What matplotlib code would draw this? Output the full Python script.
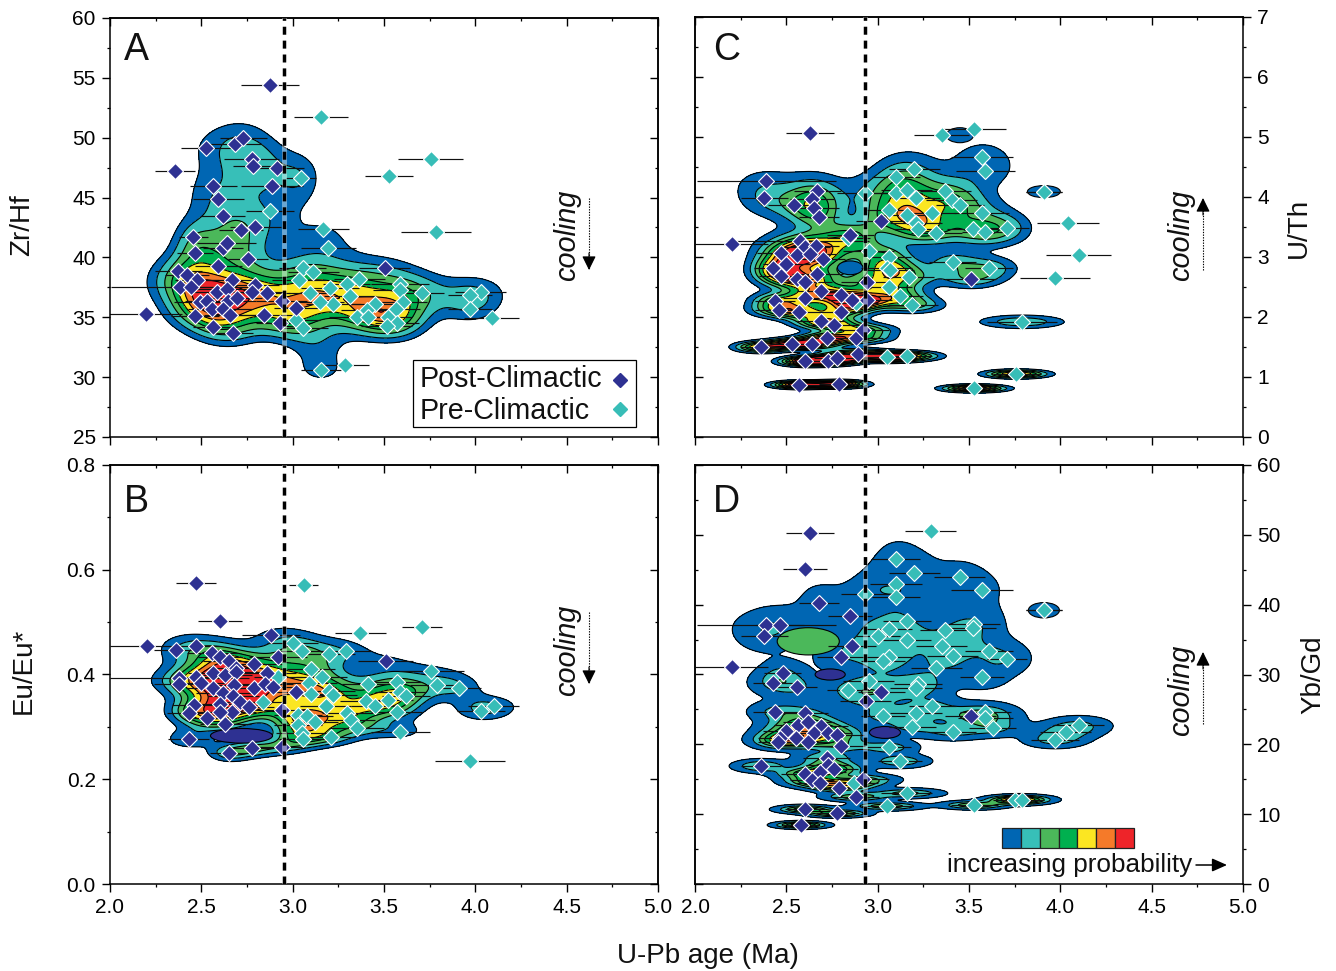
import numpy as np
import matplotlib
matplotlib.use("Agg")
import matplotlib.pyplot as plt
from matplotlib.patches import Ellipse, Rectangle
from matplotlib.lines import Line2D
from matplotlib.ticker import MultipleLocator, NullFormatter

plt.rcParams['font.family'] = ['Liberation Sans', 'DejaVu Sans']

# ---------- Panel A : Zr/Hf ----------
a_post_age = [2.526,2.684,2.73,2.776,2.785,2.912,2.566,2.885,2.593,2.617,2.715,2.796,2.456,2.617,2.639,2.465,2.757,2.593,3.505,2.374,
              2.423,2.474,2.666,2.383,2.442,2.584,2.639,2.794,2.776,2.858,2.94,2.493,2.53,2.648,2.693,2.557,2.62,3.018,2.465,2.657,
              2.845,2.93,2.566,2.675]
a_post_val = [49.1,49.5,50.0,48.2,47.6,47.5,46.0,46.0,44.85,43.5,42.3,42.5,41.7,40.75,41.2,40.4,39.9,39.3,39.1,38.9,
              38.5,38.1,38.1,37.5,37.55,37.1,37.4,37.7,37.1,37.0,36.4,36.3,36.4,36.4,36.6,35.7,35.7,35.8,35.1,35.2,
              35.2,34.5,34.2,33.7]
a_post_err = [.14,.14,.13,.15,.11,.15,.13,.17,.14,.12,.12,.14,.08,.11,.16,.10,.11,.13,.14,.13,
              .12,.12,.14,.38,.12,.15,.17,.13,.18,.13,.14,.14,.12,.15,.14,.13,.16,.12,.13,.14,
              .15,.13,.11,.11]
a_post_out_age = [2.876,2.356,2.195]
a_post_out_val = [54.4,47.2,35.3]
a_post_out_err = [.16,.11,.20]
a_pre_age = [3.046,2.876,3.168,3.195,3.055,3.113,3.035,3.296,3.365,3.204,3.095,3.314,3.588,3.588,3.706,3.606,3.45,3.223,3.15,3.405,
             3.566,3.35,3.414,3.524,3.57,3.515,3.02,3.055,3.155,4.03,3.97,3.97]
a_pre_val = [46.6,43.9,42.4,40.8,39.1,38.75,38.1,37.8,38.2,37.45,37.0,36.8,37.8,37.3,37.05,36.3,36.15,36.15,36.3,35.6,
             35.7,35.05,35.0,35.05,34.5,34.3,34.8,34.1,30.6,37.1,36.9,35.7]
a_pre_err = [.08,.13,.14,.15,.13,.14,.15,.13,.14,.16,.12,.14,.16,.15,.12,.13,.14,.15,.13,.14,
             .13,.15,.14,.13,.12,.14,.13,.14,.11,.14,.12,.12]
a_pre_out_age = [3.155,3.755,3.527,3.785,3.286,4.09]
a_pre_out_val = [51.7,48.2,46.8,42.1,31.0,34.9]
a_pre_out_err = [.15,.18,.13,.19,.13,.15]
a_extra_age = [3.14]
a_extra_val = [32.6]
a_extra_err = [.12]

# ---------- Panel B : Eu/Eu* ----------
b_post_age = [2.88,2.36,2.47,2.56,2.60,2.65,2.79,2.92,2.69,3.51,2.86,2.38,2.38,2.47,2.565,2.63,2.69,2.50,2.565,2.68,
              2.79,2.85,2.89,3.02,2.62,2.675,2.71,2.60,2.46,2.43,2.76,2.67,2.60,2.94,2.53,2.63,2.43,2.78,2.65,2.94]
b_post_val = [.475,.447,.454,.442,.433,.426,.421,.433,.412,.425,.403,.394,.382,.396,.402,.399,.405,.383,.374,.38,
              .374,.382,.377,.366,.364,.358,.348,.344,.342,.326,.337,.328,.329,.333,.316,.305,.277,.259,.25,.262]
b_post_err = [.16,.12,.13,.14,.12,.14,.15,.16,.14,.15,.16,.38,.14,.13,.14,.15,.14,.13,.15,.14,
              .13,.15,.14,.12,.15,.14,.13,.12,.12,.12,.14,.13,.15,.14,.12,.14,.11,.11,.10,.13]
b_post_out_age = [2.47,2.60,2.20]
b_post_out_val = [.575,.503,.455]
b_post_out_err = [.11,.12,.20]
b_pre_age = [3.00,3.05,3.20,3.29,3.10,3.76,3.16,2.92,3.09,3.57,3.41,3.79,3.91,3.10,3.20,3.22,3.59,3.62,2.84,3.40,
             3.52,3.18,3.45,3.57,4.03,4.10,3.03,3.08,3.12,3.30,3.32,3.35,3.03,3.05,3.055,3.21,3.59]
b_pre_val = [.461,.445,.44,.445,.41,.407,.396,.396,.383,.386,.382,.38,.374,.363,.369,.361,.367,.359,.348,.35,
             .352,.34,.339,.329,.331,.34,.323,.32,.31,.326,.313,.298,.303,.288,.277,.28,.291]
b_pre_err = [.14,.13,.14,.14,.13,.18,.14,.13,.15,.14,.14,.15,.12,.14,.14,.13,.14,.13,.12,.14,
             .14,.14,.13,.14,.13,.14,.13,.14,.13,.14,.13,.15,.13,.14,.13,.13,.16]
b_pre_out_age = [3.06,3.37,3.71,3.97]
b_pre_out_val = [.57,.48,.491,.234]
b_pre_out_err = [.08,.14,.11,.19]

# ---------- Panel C : U/Th ----------
c_post_age = [2.39,2.38,2.54,2.67,2.64,2.65,2.68,3.02,2.85,2.575,2.60,2.66,2.47,2.56,2.63,2.70,2.425,2.50,2.47,2.67,
              2.56,2.60,2.94,3.51,2.69,2.80,2.86,2.94,2.60,2.44,2.46,2.57,2.80,2.69,2.76,2.72,2.88,2.92,2.36,2.53,
              2.64,2.89,2.60,2.73,2.78,2.57,2.79]
c_post_val = [4.26,3.99,3.87,4.10,3.96,3.81,3.67,3.60,3.36,3.27,3.16,3.18,3.06,3.03,3.05,2.97,2.81,2.88,2.69,2.72,
              2.63,2.58,2.59,2.64,2.43,2.37,2.28,2.28,2.31,2.27,2.12,2.09,2.09,1.94,1.87,1.65,1.65,1.78,1.50,1.55,
              1.55,1.39,1.26,1.27,1.31,.87,.88]
c_post_err = [.38,.13,.14,.13,.12,.14,.11,.14,.13,.38,.14,.13,.13,.12,.14,.12,.10,.13,.12,.14,
              .13,.15,.14,.14,.13,.14,.13,.14,.12,.11,.13,.12,.12,.13,.14,.12,.15,.14,.11,.12,
              .13,.14,.11,.12,.13,.11,.11]
c_post_out_age = [2.63,2.20]
c_post_out_val = [5.06,3.21]
c_post_out_err = [.13,.20]
c_pre_age = [3.57,3.59,3.20,3.10,2.93,3.10,3.16,3.21,3.37,3.405,3.45,3.57,3.30,3.06,3.16,3.21,3.22,3.32,3.52,3.59,
             3.71,2.84,2.95,3.06,3.05,3.07,3.41,3.61,3.17,3.06,3.12,3.19,2.88,3.05,3.16,3.79,3.76,3.53]
c_pre_val = [4.67,4.44,4.46,4.34,4.06,4.06,4.12,3.98,4.10,3.95,3.87,3.73,3.73,3.78,3.70,3.56,3.46,3.40,3.46,3.41,
             3.48,3.31,3.10,3.00,2.81,2.78,2.91,2.82,2.66,2.50,2.35,2.20,2.23,1.33,1.35,1.92,1.05,.81]
c_pre_err = [.17,.16,.14,.13,.15,.14,.14,.13,.14,.14,.13,.15,.13,.12,.13,.14,.13,.14,.14,.13,
             .12,.12,.14,.12,.14,.13,.13,.13,.14,.13,.13,.14,.12,.13,.14,.19,.13,.13]
c_pre_out_age = [3.35,3.53,4.04,4.10,3.97,3.91,3.91]
c_pre_out_val = [5.03,5.14,3.56,3.04,2.65,4.09,4.09]
c_pre_out_err = [.15,.17,.17,.18,.19,.10,.10]

# ---------- Panel D : Yb/Gd ----------
d_post_age = [2.68,2.85,2.39,2.465,2.38,2.86,2.80,2.48,2.425,2.56,3.02,2.935,2.44,2.60,3.51,2.565,2.62,2.69,2.50,2.65,
              2.73,2.775,2.465,2.555,2.616,2.456,2.80,2.72,2.73,2.76,2.36,2.60,2.685,2.64,2.685,2.92,2.79,2.88,2.60,2.78,2.58]
d_post_val = [40.3,38.37,37.1,37.1,35.55,34.1,32.45,30.2,28.8,28.25,27.45,26.2,24.7,24.5,24.1,22.76,23.2,22.6,21.95,21.6,
              21.6,21.3,20.85,20.85,20.3,20.4,19.8,18.1,17.0,16.4,16.9,15.75,16.0,14.9,14.4,15.0,13.8,12.5,10.7,10.1,8.45]
d_post_err = [.11,.12,.38,.13,.13,.13,.13,.10,.11,.11,.13,.14,.12,.13,.14,.13,.14,.15,.13,.14,
              .13,.15,.12,.13,.14,.11,.13,.13,.12,.13,.11,.13,.14,.12,.13,.14,.12,.13,.11,.12,.10]
d_post_out_age = [2.63,2.60,2.20]
d_post_out_val = [50.3,45.15,31.1]
d_post_out_err = [.13,.12,.20]
d_pre_age = [3.10,3.20,3.45,3.57,3.10,2.93,3.10,3.16,3.53,3.52,3.37,3.06,3.0,3.16,3.35,3.41,3.61,3.71,
             3.06,3.03,3.32,3.57,2.95,3.22,3.21,2.84,3.30,3.59,3.59,3.63,3.21,3.03,3.19,3.41,4.10,4.03,3.97,3.06,
             3.12,2.87,3.16,3.05,3.53,3.75,3.79]
d_pre_val = [46.5,44.5,43.9,42.05,42.96,41.5,41.05,37.6,37.3,36.6,36.4,36.5,35.5,34.9,34.1,32.65,33.4,32.2,
             32.55,31.9,30.9,29.7,29.05,28.7,28.0,27.8,25.5,24.7,23.7,22.3,24.45,24.1,22.5,21.8,22.8,21.8,20.6,19.55,
             17.6,14.4,13.0,11.15,11.3,12.0,12.1]
d_pre_err = [.13,.14,.14,.17,.14,.13,.13,.13,.14,.13,.14,.13,.12,.13,.14,.14,.13,.11,
             .13,.12,.14,.12,.14,.13,.14,.12,.13,.14,.15,.13,.14,.12,.13,.13,.14,.14,.13,.12,
             .12,.13,.14,.14,.13,.12,.12]
d_pre_out_age = [3.29,3.91,3.91]
d_pre_out_val = [50.55,39.2,39.2]
d_pre_out_err = [.14,.10,.10]

# contour settings: kernel width in x is scale*err, kernel height in y is s0 + s1*v + s2*v*v
kernel_x = {'A': 1.0, 'B': .85, 'C': .8, 'D': .8}
kernel_y = {'A': (0, .032, 0), 'B': (0, .050, 0), 'C': (.03, 0, .012), 'D': (.20, 0, .0012)}
levels_a = [8, 14, 21, 28, 34, 41, 48]
levels_b = [460, 820, 1150, 1480, 1810, 2140, 2470]
levels_c = [28, 60, 95, 130, 165, 200, 235]
levels_d = [3, 11, 19, 27, 35, 43, 51]
fill_colors = ['#0066b3', '#37bfb8', '#4bb85a', '#00b04f', '#fbe622', '#f57a29', '#ee2429']
POST = '#2e3192'
PRE = '#37bdb7'

# hollow and isolated regions seen inside the contours: age, value, width, height, colour
b_blob = ([2.72], [.283], [.34], [.028], [POST])
c_blob = ([2.85, 3.45, 3.91], [2.82, 5.03, 4.09], [.14, .15, .18], [.23, .25, .20], ['#0066b3'] * 3)
d_blob = ([2.62, 2.74, 3.04, 3.07, 3.91], [34.75, 30.0, 21.7, 42.1, 39.2],
          [.34, .165, .17, .11, .17], [3.9, 1.6, 1.7, 1.2, 2.2],
          ['#4bb85a', POST, POST, '#37bfb8', '#0066b3'])

W, H = 1336, 971
fig = plt.figure(figsize=(W / 100, H / 100), dpi=100)


def make_axes(l, t, r, b):
    return fig.add_axes([l / W, 1 - b / H, (r - l) / W, (b - t) / H])


def density(X, Y, age, val, err, key):
    s0, s1, s2 = kernel_y[key]
    Z = np.zeros_like(X)
    for a, v, e in zip(age, val, err):
        sx = max(min(e, .2), .07) * kernel_x[key]
        sy = s0 + s1 * v + s2 * v * v
        Z += np.exp(-.5 * ((X - a) / sx) ** 2 - .5 * ((Y - v) / sy) ** 2) / (sx * sy)
    return Z


def panel(ax, key, ymin, ymax, major, minor, line_x, levels, post, pre, post_out, pre_out, extra=None, blobs=None):
    xs = np.linspace(2, 5, 600)
    ys = np.linspace(ymin, ymax, 800)
    X, Y = np.meshgrid(xs, ys)
    A = list(post[0]) + list(pre[0])
    V = list(post[1]) + list(pre[1])
    E = list(post[2]) + list(pre[2])
    if extra:
        A += list(extra[0]); V += list(extra[1]); E += list(extra[2])
    Z = density(X, Y, A, V, E, key)
    ax.contourf(X, Y, Z, levels=list(levels) + [Z.max() * 1.01 + levels[-1]], colors=fill_colors, zorder=1)
    ax.contour(X, Y, Z, levels=levels, colors='k', linewidths=.8, zorder=1.2)
    if blobs:
        for a, v, w, h, c in zip(*blobs):
            ax.add_patch(Ellipse((a, v), w, h, fc=c, ec='k', lw=.8, zorder=1.3))
    pre_all = [list(pre[i]) + list(pre_out[i]) for i in range(3)]
    post_all = [list(post[i]) + list(post_out[i]) for i in range(3)]
    for aa, vv, ee in (pre_all, post_all):
        ax.errorbar(aa, vv, xerr=ee, fmt='none', ecolor='#111111', elinewidth=.85, capsize=0, zorder=2)
    for (aa, vv, ee), col in ((pre_all, PRE), (post_all, POST)):
        ax.plot(aa, vv, ls='none', marker='D', ms=8, mfc=col, mec='white', mew=.8, zorder=3)
    ax.axvline(line_x, color='white', lw=3.6, alpha=.42, zorder=4)
    ax.axvline(line_x, color='k', lw=2.5, ls=(0, (2.3, 1.7)), zorder=5)
    ax.set_xlim(2, 5)
    ax.set_ylim(ymin, ymax)
    ax.xaxis.set_major_locator(MultipleLocator(.5))
    ax.xaxis.set_minor_locator(MultipleLocator(.25))
    ax.yaxis.set_major_locator(MultipleLocator(major))
    ax.yaxis.set_minor_locator(MultipleLocator(minor))
    for s in ax.spines.values():
        s.set_linewidth(1.1)
    ax.tick_params(which='major', length=5.8, width=1.0, labelsize=15, pad=4.5)
    ax.tick_params(which='minor', length=2.2, width=.9)
    ax.tick_params(which='both', axis='x', direction='out', top=False, bottom=True)


ax_a = make_axes(110, 18, 658, 437)
ax_b = make_axes(110, 465, 658, 884)
ax_c = make_axes(695, 17, 1243, 437)
ax_d = make_axes(695, 465, 1243, 884)

panel(ax_a, 'A', 25, 60, 5, 2.5, 2.95, levels_a,
      (a_post_age, a_post_val, a_post_err), (a_pre_age, a_pre_val, a_pre_err),
      (a_post_out_age, a_post_out_val, a_post_out_err), (a_pre_out_age, a_pre_out_val, a_pre_out_err),
      extra=(a_extra_age, a_extra_val, a_extra_err))
panel(ax_b, 'B', 0, .8, .2, .1, 2.95, levels_b,
      (b_post_age, b_post_val, b_post_err), (b_pre_age, b_pre_val, b_pre_err),
      (b_post_out_age, b_post_out_val, b_post_out_err), (b_pre_out_age, b_pre_out_val, b_pre_out_err), blobs=b_blob)
panel(ax_c, 'C', 0, 7, 1, .5, 2.93, levels_c,
      (c_post_age, c_post_val, c_post_err), (c_pre_age, c_pre_val, c_pre_err),
      (c_post_out_age, c_post_out_val, c_post_out_err), (c_pre_out_age, c_pre_out_val, c_pre_out_err), blobs=c_blob)
panel(ax_d, 'D', 0, 60, 10, 5, 2.93, levels_d,
      (d_post_age, d_post_val, d_post_err), (d_pre_age, d_pre_val, d_pre_err),
      (d_post_out_age, d_post_out_val, d_post_out_err), (d_pre_out_age, d_pre_out_val, d_pre_out_err), blobs=d_blob)


def inner_ticks(sec, axis):
    axis.set_major_formatter(NullFormatter())
    axis.set_minor_formatter(NullFormatter())
    sec.tick_params(which='major', direction='in', length=5.8, width=1.0)
    sec.tick_params(which='minor', direction='in', length=2.2, width=.9)


for ax, side, major, minor in ((ax_a, 'right', 5, 2.5), (ax_b, 'right', .2, .1), (ax_c, 'left', 1, .5), (ax_d, 'left', 10, 5)):
    if side == 'left':
        ax.yaxis.tick_right()
    ax.tick_params(which='both', axis='y', direction='out')
    sec = ax.secondary_yaxis(side)
    sec.yaxis.set_major_locator(MultipleLocator(major))
    sec.yaxis.set_minor_locator(MultipleLocator(minor))
    inner_ticks(sec, sec.yaxis)
    sec.spines[side].set_linewidth(1.1)
    top = ax.secondary_xaxis('top')
    top.xaxis.set_major_locator(MultipleLocator(.5))
    top.xaxis.set_minor_locator(MultipleLocator(.25))
    inner_ticks(top, top.xaxis)
    top.spines['top'].set_linewidth(1.1)
for ax in (ax_a, ax_c):
    ax.tick_params(axis='x', which='both', labelbottom=False)
ax_a.yaxis.set_major_formatter(lambda v, p: f'{v:.0f}')
ax_c.yaxis.set_major_formatter(lambda v, p: f'{v:.0f}')
ax_d.yaxis.set_major_formatter(lambda v, p: f'{v:.0f}')
ax_b.yaxis.set_major_formatter(lambda v, p: f'{v:.1f}')
for ax in (ax_b, ax_d):
    ax.xaxis.set_major_formatter(lambda v, p: f'{v:.1f}')

# overlay in pixel coordinates for annotations
ov = fig.add_axes([0, 0, 1, 1], zorder=20)
ov.set_xlim(0, W)
ov.set_ylim(H, 0)
ov.axis('off')
ov.patch.set_alpha(0)

for letter, lx, ly in (('A', 124, 50), ('B', 124, 502), ('C', 713, 50), ('D', 713, 502)):
    ov.text(lx, ly, letter, fontsize=27, ha='left', va='center', color='#111111')

lab = dict(fontsize=20, color='#111111', ha='center', va='center')
ov.text(22, 225, 'Zr/Hf', rotation=90, **lab)
ov.text(24, 671, 'Eu/Eu*', rotation=90, **lab)
ov.text(1299, 228, 'U/Th', rotation=90, **lab)
ov.text(1313, 675, 'Yb/Gd', rotation=90, **lab)
ov.text(708, 956, 'U-Pb age (Ma)', **lab)

cool = dict(fontsize=20.8, style='italic', rotation=90, ha='center', va='center', color='#111111')
for tx, ty, ax_, y0, y1 in ((567, 235, 589, 198, 270), (567, 650, 589, 612, 684),
                            (1181, 235, 1203, 270, 198), (1181, 690, 1203, 724, 652)):
    ov.text(tx, ty, 'cooling', **cool)
    ov.plot([ax_, ax_], [y0, y1], color='k', lw=.8, ls=(0, (1.2, 1.2)))
    direction = 1 if y1 > y0 else -1
    ov.annotate('', xy=(ax_, y1), xytext=(ax_, y1 - direction * 17),
                arrowprops=dict(arrowstyle='-|>,head_length=.85,head_width=.42', color='k', lw=.8, shrinkA=0, shrinkB=0))

# legend of panel A
ov.add_patch(Rectangle((413, 360), 223, 67, fc='white', ec='k', lw=.9, zorder=3))
ov.text(420, 379, 'Post-Climactic', fontsize=20.6, ha='left', va='center', color='#111111', zorder=4)
ov.text(420, 411, 'Pre-Climactic', fontsize=20.6, ha='left', va='center', color='#111111', zorder=4)
ov.add_line(Line2D([620], [380], ls='none', marker='D', ms=7.6, mfc=POST, mec=POST, zorder=4))
ov.add_line(Line2D([620], [409], ls='none', marker='D', ms=7.6, mfc=PRE, mec=PRE, zorder=4))

# colour key
n = len(fill_colors)
for i, c in enumerate(fill_colors):
    ov.add_patch(Rectangle((1002 + i * 132 / n, 828), 132 / n, 20, fc=c, ec='#222222', lw=.9))
ov.text(947, 865, 'increasing probability', fontsize=18.8, ha='left', va='center', color='#111111')
ov.annotate('', xy=(1227, 865), xytext=(1196, 865),
            arrowprops=dict(arrowstyle='-|>,head_length=.9,head_width=.4', color='k', lw=1.1, shrinkA=0, shrinkB=0))

fig.savefig('out.png', dpi=100)
